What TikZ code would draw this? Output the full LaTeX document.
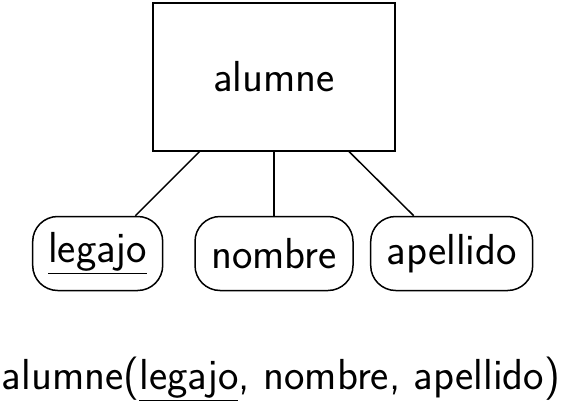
\documentclass[tikz,border=0pt]{standalone}
\usepackage{tikz}
\usetikzlibrary{positioning}

\begin{document}
\begin{tikzpicture}[
  x=0.5pt, y=0.5pt,
  font=\sffamily\fontsize{21.7}{26}\selectfont,
  entidad/.style={rectangle, draw, line width=0.75pt,
                  minimum width=121pt, minimum height=73.75pt, inner sep=0pt},
  atributo/.style={rectangle, rounded corners=12.5pt, draw, line width=0.75pt,
                   minimum height=37pt, inner sep=0pt},
  enlace/.style={line width=0.75pt}
]
\useasboundingbox (0,0) rectangle (567,408);
\node[entidad] (alumne) at (274,331) {alumne};
\node[atributo, minimum width=65pt] (legajo)   at (97.7,154.5) {\underline{legajo}};
\node[atributo, minimum width=79pt] (nombre)   at (274,154.5)  {nombre};
\node[atributo, minimum width=81pt] (apellido) at (451.7,154.5) {apellido};
\draw[enlace] (alumne) -- (legajo);
\draw[enlace] (alumne) -- (nombre);
\draw[enlace] (alumne) -- (apellido);
% esquema relacional
\node[anchor=base, inner sep=0pt] (esquema) at (281,19)
  {alumne(\underline{legajo}, nombre, apellido)};
\end{tikzpicture}
\end{document}
